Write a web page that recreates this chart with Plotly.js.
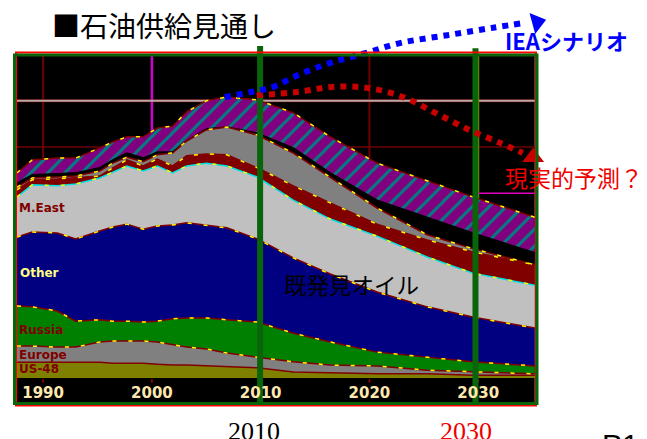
<!DOCTYPE html>
<html><head><meta charset="utf-8">
<script src="https://cdn.plot.ly/plotly-3.0.1.min.js"></script>
<style>html,body{margin:0;padding:0;background:#fff;overflow:hidden}</style>
</head><body><div id="c" style="width:647px;height:439px"></div>
<script>
const years=[1987.6,1989,1991.3,1993,1995.2,1996.4,1997.7,1999.2,2000.5,2001.9,2003.2,2005,2006.9,2009.7,2013,2016.4,2020.7,2025.3,2029.5,2035.2];
const us48=[1.7,1.7,1.7,1.7,1.7,1.6,1.6,1.6,1.5,1.4,1.4,1.3,1.2,1.1,.65,.55,.45,.45,.3,.3];
const europe=[3.45,3.45,3.35,3.35,3.9,4,4,4,3.9,3.6,3.35,3.15,2.7,2.25,1.75,1.4,1.3,.85,.65,.45];
const russia=[7.8,7.7,7.25,6.15,6.3,6.15,6.15,6.05,6.15,6.4,6.5,6.5,6.3,6.05,4.85,3.9,2.8,2.25,1.75,1.3];
const other=[15.25,15.8,15.7,15.05,15.9,16.35,16.65,16.1,16.45,16.55,16.8,16.55,16.25,15.05,13,11.25,9.3,7.7,6.6,5.4];
const mEast=[19.6,20.9,20.8,21,21.65,22.3,22.95,22.4,22.95,22.2,22.95,23.25,22.95,21.75,19.25,17.2,15.35,13.1,11.35,10.05];
const heavy=[20.35,21.45,21.55,21.65,21.85,22.75,23.6,22.95,23.7,22.95,24.05,24.25,24.15,22.75,20.8,18.95,16.65,14.95,13.65,12.25];
const deep=[20.65,21.65,21.75,21.85,22.4,23.25,23.9,23.4,24.15,24.35,25.65,26.85,27.15,26.3,24.35,21.75,18.4,15.5,14,12.25];
const polar=[21.1,22,22.1,22.2,22.75,23.6,24.35,23.8,24.45,24.45,25.65,26.95,27.15,26.5,24.9,22.2,19.25,17.4,15.7,13.55];
const gas=[22.2,23.6,23.8,23.8,24.9,25.55,26.1,26.1,27.05,27.25,28.8,30,30.4,30.1,28.7,26.1,23.25,21.3,19.6,17.4];
const ieaYears=[2006.7,2009.95,2011.15,2013.45,2016.4,2019.6,2022.8,2027.15,2031.35,2034.1];
const ieaValues=[30.4,31.15,31.5,32.8,34.1,35.15,36.25,37.1,37.9,38.4];
const realYears=[2009.65,2013.35,2016.55,2019.8,2023.1,2026.05,2029,2032,2034.1];
const realValues=[30.6,30.95,31.5,31.4,30.4,28.7,26.95,25.45,24.35];
const tickYears=[1990,2000,2010,2020,2030];
const tickLabels=['1990','2000','2010','2020','2030'];

const area=(y,color,line,extra)=>Object.assign({x:years,y,mode:'lines',fill:'tozeroy',fillcolor:color,
  line:{color:line,width:1.5},hoverinfo:'skip',showlegend:false},extra||{});
const edge=(y,color)=>({x:years,y,mode:'lines',line:{color,width:1.5,dash:'4px,12px'},hoverinfo:'skip',showlegend:false});
const bar=(x,top)=>({x:[x,x],y:[-3.03,top],mode:'lines',line:{color:'#0a640a',width:6},cliponaxis:false,hoverinfo:'skip',showlegend:false});
const dotted=(x,y,c)=>({x,y,mode:'lines',line:{color:c,width:6,dash:'6px,6px',shape:'spline'},cliponaxis:false,hoverinfo:'skip',showlegend:false});
const head=(x,y,c,a)=>({x:[x],y:[y],mode:'markers',marker:{symbol:'triangle-up',size:19,color:c,angle:a,line:{width:0}},cliponaxis:false,hoverinfo:'skip',showlegend:false});

const traces=[
  area(gas,'#800080','#800000',{fillpattern:{shape:'/',fgcolor:'#008080',bgcolor:'#800080',size:12,solidity:0.25}}),
  area(polar,'#000000','#000000'),
  area(deep,'#808080','#800000'),
  area(heavy,'#800000','#800000'),
  area(mEast,'#c0c0c0','#00e0e0'),
  area(other,'#000080','#800000'),
  area(russia,'#008000','#800000'),
  area(europe,'#808080','#800000'),
  area(us48,'#808000','#800000'),
  edge(gas,'#ffff00'),edge(deep,'#ffff00'),edge(heavy,'#ffff00'),edge(mEast,'#ffff00'),edge(other,'#ffff00'),edge(russia,'#ffff00'),edge(europe,'#ffff00'),
  bar(2009.95,35.93),bar(2029.75,35.7),
  dotted(realYears,realValues,'#c80000'),
  dotted(ieaYears,ieaValues,'#0000ff'),
  head(2035.05,23.9,'#c80000',0),
  head(2035.4,38.5,'#0000ff',75)
];

const px=v=>(v-17)/543, py=v=>(410-v)/410;
const rect=(x0,y0,x1,y1,c,w)=>({type:'rect',xref:'paper',yref:'paper',x0:px(x0),x1:px(x1),y0:py(y0),y1:py(y1),line:{color:c,width:w},layer:'above'});
const gline=(x0,y0,x1,y1,c,w)=>({type:'line',xref:'x',yref:'y',x0,x1,y0,y1,line:{color:c,width:w},layer:'below'});
const shapes=[
  {type:'rect',xref:'x',yref:'y',x0:1987.6,x1:2035.2,y0:-2.81,y1:35.06,fillcolor:'#000',line:{width:0},layer:'below'},
  gline(1990,0,1990,35.06,'#700000',2),
  gline(2020,0,2020,35.06,'#700000',2),
  gline(1987.6,25,2035.2,25,'#700000',1.5),
  gline(1987.6,30,2035.2,30,'#700000',3),
  gline(2000,26,2000,35.06,'#d000d0',2.5),
  gline(1987.6,30,2035.2,30,'#b8a8a8',2),
  gline(2030,0,2030,35.06,'#a0a000',2),
  gline(2030,20,2035.2,20,'#e000c0',1.5),
  ...tickYears.map(t=>gline(t,-0.5,t,-0.15,'#c00000',1.5)),
  rect(16,52.5,536,405.5,'#ff0000',2),
  rect(14.5,55,537,403.5,'#0a640a',3)
];
const note=(text,x,y,size,color,family,bold,anchor)=>({text:bold?'<b>'+text+'</b>':text,xref:'paper',yref:'paper',x:px(x),y:py(y),xanchor:anchor||'left',yanchor:'middle',showarrow:false,font:{size,color,family}});
const jp='"Noto Sans CJK JP"', ls='"Liberation Sans"', ts='"Liberation Serif"', dj='"DejaVu Sans"';
const annotations=[
  note('■石油供給見通し',50,25,28,'#000',jp),
  note('IEAシナリオ',503,40,22,'#0000ff',jp,true),
  note('現実的予測？',503,177,23,'#f00000',jp),
  note('既発見オイル',282,284,22.5,'#000',jp),
  note('M.East',17,208,12,'#800000',dj,true),
  note('Other',18,273,12,'#ffff80',dj,true),
  note('Russia',17,330,12,'#800000',dj,true),
  note('Europe',17,355,12,'#800000',dj,true),
  note('US-48',17,369,12,'#800000',dj,true),
  note('2010',254,431,26,'#000',ts,false,'center'),
  note('2030',466,431,26,'#f00000',ts,false,'center'),
  note('P1',600,444,30,'#000',ls)
];
Plotly.newPlot('c',traces,{
  width:647,height:439,autosize:false,
  margin:{l:17,r:87,t:0,b:29,pad:0},
  paper_bgcolor:'#fff',plot_bgcolor:'rgba(0,0,0,0)',showlegend:false,
  xaxis:{range:[1987.6,2037.52],tickmode:'array',tickvals:tickYears,ticktext:tickLabels,
    showgrid:false,zeroline:false,ticks:'',showline:false,
    ticklabelposition:'inside',ticklabelstandoff:6,tickfont:{family:dj,size:15,color:'#ffe8b0',weight:'bold'}},
  yaxis:{range:[-3.463,40.909],showgrid:false,showticklabels:false,zeroline:false,ticks:'',showline:false},
  shapes,annotations
},{displayModeBar:false,staticPlot:true});
</script></body></html>
